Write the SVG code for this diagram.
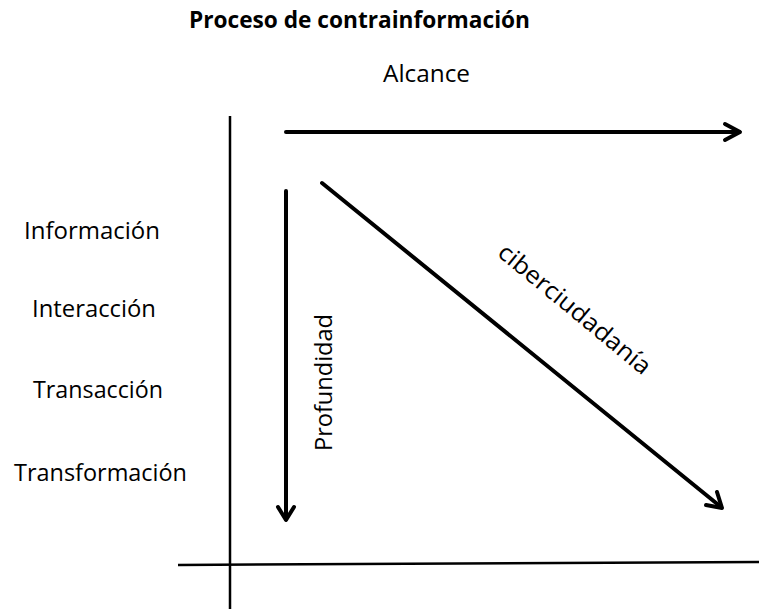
<svg xmlns="http://www.w3.org/2000/svg" width="759" height="609" viewBox="0 0 759 609">
<style>
.t{font-family:"Open Sans","Noto Sans","Liberation Sans",sans-serif;font-size:24px;fill:#000}
.b{font-weight:bold;font-size:23px}
.ax{stroke:#000;stroke-width:2.5;fill:none}
.ar{stroke:#000;stroke-width:4;fill:none;stroke-linecap:round;stroke-linejoin:round}
</style>
<rect width="759" height="609" fill="#fff"/>
<g id="title"><text class="t b" x="189" y="28" textLength="341" lengthAdjust="spacingAndGlyphs">Proceso de contrainformación</text></g>
<g id="alcance"><text class="t" x="383" y="82" textLength="87" lengthAdjust="spacingAndGlyphs">Alcance</text></g>
<g id="informacion"><text class="t" x="24" y="239" textLength="136" lengthAdjust="spacingAndGlyphs">Información</text></g>
<g id="interaccion"><text class="t" x="32" y="317" textLength="124" lengthAdjust="spacingAndGlyphs">Interacción</text></g>
<g id="transaccion"><text class="t" x="33" y="398" textLength="130" lengthAdjust="spacingAndGlyphs">Transacción</text></g>
<g id="transformacion"><text class="t" x="14" y="481" textLength="173" lengthAdjust="spacingAndGlyphs">Transformación</text></g>
<g id="profundidad"><text class="t" transform="translate(332,451) rotate(-90)" x="0" y="0" textLength="137" lengthAdjust="spacingAndGlyphs">Profundidad</text></g>
<g id="ciberciudadania"><text class="t" transform="translate(574,310) rotate(39.5)" x="0" y="7" text-anchor="middle" textLength="190" lengthAdjust="spacingAndGlyphs">ciberciudadanía</text></g>
<g id="connectors">
<line class="ax" x1="230" y1="116" x2="230" y2="609"/>
<line class="ax" x1="178" y1="565" x2="759" y2="562"/>
<line class="ar" x1="286" y1="132" x2="739" y2="132"/>
<polyline class="ar" points="725,124 740,132 725,140"/>
<line class="ar" x1="286" y1="191" x2="286" y2="519"/>
<polyline class="ar" points="278,507 286,520 294,507"/>
<line class="ar" x1="322" y1="183" x2="721" y2="507"/>
<polyline class="ar" points="706,505 722,508 717,492"/>
</g>
</svg>
